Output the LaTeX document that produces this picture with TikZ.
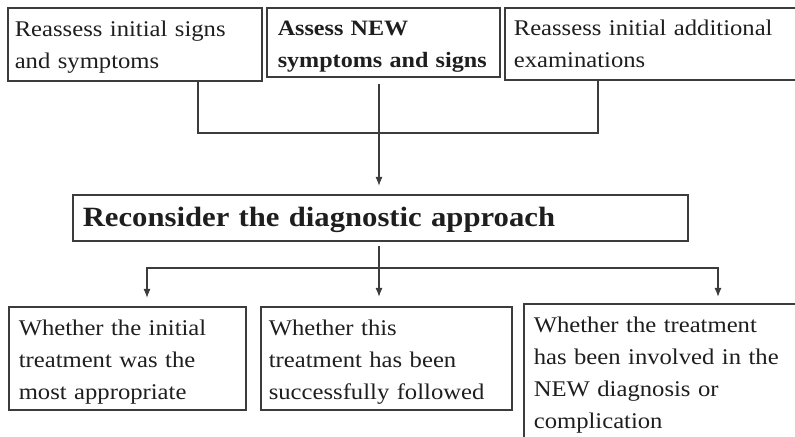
\documentclass[tikz,border=0pt]{standalone}
\usepackage{fontspec}
\setmainfont{Liberation Serif}[FakeStretch=1.1]
\usetikzlibrary{arrows.meta}
\definecolor{ink}{HTML}{1E1E1E}
\definecolor{rule}{HTML}{3C3C3C}
\begin{document}
\begin{tikzpicture}[x=1bp,y=-1bp,
  box/.style={draw=rule, line width=1.6bp, anchor=north west, align=left,
    inner ysep=0pt, text=ink, font=\fontsize{22.5}{32}\selectfont},
  link/.style={draw=rule, line width=1.3bp},
  arr/.style={link, -{Latex[length=9bp,width=7bp]}},
  arrs/.style={link, {Latex[length=9bp,width=7bp]}-{Latex[length=9bp,width=7bp]}}]
  \clip (0,0) rectangle (795,437);
  \useasboundingbox (0,0) rectangle (795,437);

  % top row
  \node[box, inner xsep=7bp, text width=240bp, text height=29bp, text depth=44bp]
    (b1) at (7,7) {Reassess initial signs\\and symptoms};
  \node[box, inner xsep=11bp, text width=211bp, text height=28bp, text depth=41bp,
    font=\fontsize{22}{32}\selectfont\bfseries]
    (b2) at (266,7) {\mbox{Assess NEW}\\\mbox{symptoms and signs}};
  \node[box, inner xsep=9bp, text width=282bp, text height=28bp, text depth=44bp]
    (b3) at (504,7) {Reassess initial additional\\examinations};

  % middle box
  \node[box, inner xsep=10bp, text width=595bp, text height=32bp, text depth=14bp,
    font=\fontsize{28}{34}\selectfont\bfseries]
    (mid) at (72,194) {Reconsider the diagnostic approach};

  % bottom row
  \node[box, inner xsep=10bp, text width=217bp, text height=29bp, text depth=74bp]
    (ba) at (8,306) {Whether the initial\\treatment was the\\most appropriate};
  \node[box, inner xsep=8bp, text width=235bp, text height=29bp, text depth=74bp]
    (bb) at (260,306) {Whether this\\treatment has been\\successfully followed};
  \node[box, inner xsep=10bp, text width=270bp, text height=29bp, text depth=111bp]
    (bc) at (523,303) {Whether the treatment\\has been involved in the\\NEW diagnosis or\\complication};

  % junction points
  \coordinate (axis) at (379,0);
  \coordinate (jl) at (198,133);
  \coordinate (jr) at (598,133);
  \coordinate (kl) at (147,268);
  \coordinate (kr) at (718,268);

  % top connectors
  \draw[link] (b1.south -| jl) -- (jl) -- (jr) -- (b3.south -| jr);
  \draw[arr, shorten <=6bp, shorten >=8bp] (b2.south -| axis) -- (mid.north -| axis);

  % bottom connectors
  \draw[arr, shorten <=4bp, shorten >=9bp] (mid.south -| axis) -- (bb.north -| axis);
  \draw[arrs, shorten <=8bp, shorten >=6bp] (ba.north -| kl) -- (kl) -- (kr) -- (bc.north -| kr);
\end{tikzpicture}
\end{document}
